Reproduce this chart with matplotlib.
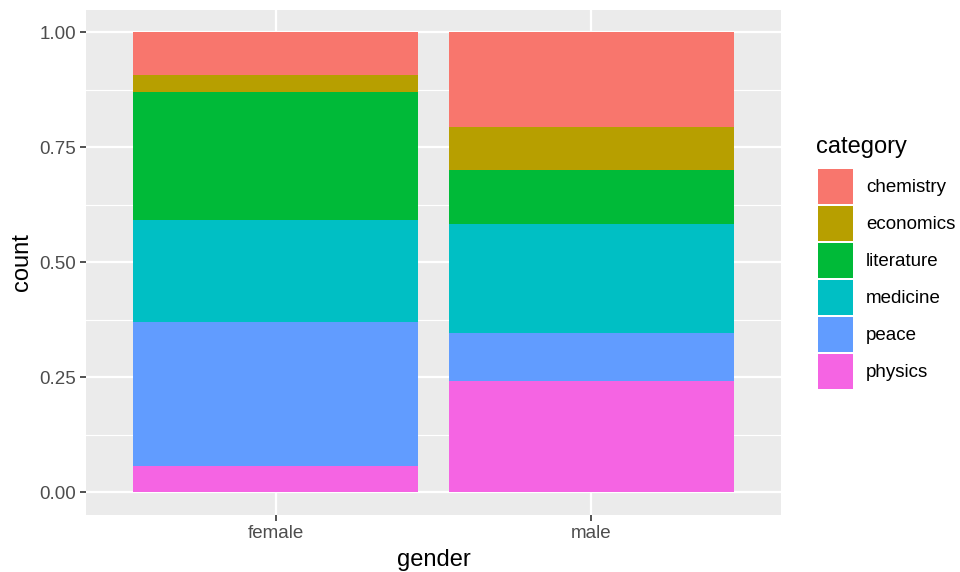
import numpy as np
import matplotlib
matplotlib.use("Agg")
import matplotlib.pyplot as plt
from matplotlib.patches import Rectangle

plt.rcParams['font.family'] = ['Liberation Sans', 'DejaVu Sans']

genders = ['female', 'male']
categories = ['chemistry', 'economics', 'literature', 'medicine', 'peace', 'physics']
colors = ['#F8766D', '#B79F00', '#00BA38', '#00BFC4', '#619CFF', '#F564E3']

# prize counts per category (female, male)
chemistry = [5, 179]
economics = [2, 82]
literature = [15, 101]
medicine = [12, 207]
peace = [17, 90]
physics = [3, 210]

counts = np.array([chemistry, economics, literature, medicine, peace, physics], dtype=float)
props = counts / counts.sum(axis=0)

W, H = 960, 572
fig = plt.figure(figsize=(W/100, H/100), dpi=100)
ax = fig.add_axes([86/W, 1 - 515/H, (781-86)/W, (515-9.5)/H])
ax.set_facecolor('#EBEBEB')

x = np.arange(len(genders)) + 1
# stack from the bottom: physics first, chemistry on top
bottom = np.zeros(len(genders))
for i in range(len(categories) - 1, -1, -1):
    ax.bar(x, props[i], width=0.9, bottom=bottom, color=colors[i], linewidth=0, zorder=3)
    bottom += props[i]

ax.set_xlim(0.4, 2.6)
ax.set_ylim(-0.05, 1.05)
ax.set_xticks(x)
ax.set_xticklabels(genders)
ax.set_yticks([0, 0.25, 0.5, 0.75, 1.0])
ax.set_yticklabels(['0.00', '0.25', '0.50', '0.75', '1.00'])
ax.set_yticks([0.125, 0.375, 0.625, 0.875], minor=True)

ax.grid(True, which='major', color='white', linewidth=1.6, zorder=1)
ax.grid(True, which='minor', axis='y', color='white', linewidth=0.8, zorder=1)
ax.set_axisbelow(True)
for s in ax.spines.values():
    s.set_visible(False)

ax.tick_params(axis='both', which='major', length=4, width=1.2, color='#333333',
               labelsize=13.5, labelcolor='#4D4D4D', pad=3)
ax.tick_params(axis='y', which='minor', length=0)

ax.set_xlabel('gender', fontsize=17, color='black', labelpad=5)
ax.set_ylabel('count', fontsize=17, color='black', labelpad=5)

# legend drawn by hand, ggplot style, in pixel coordinates
lax = fig.add_axes([0, 0, 1, 1], facecolor='none')
lax.set_xlim(0, W)
lax.set_ylim(H, 0)
lax.axis('off')
lax.text(816, 147, 'category', fontsize=17, color='black', ha='left', va='center')
key_w, key_h, step = 35, 35, 37
for i, (lab, c) in enumerate(zip(categories, colors)):
    top = 169 + i * step
    lax.add_patch(Rectangle((818, top), key_w, key_h, facecolor=c, edgecolor='none'))
    lax.text(866, top + key_h / 2 + 1, lab, fontsize=13.5, color='black', ha='left', va='center')

fig.savefig('out.png', dpi=100)
